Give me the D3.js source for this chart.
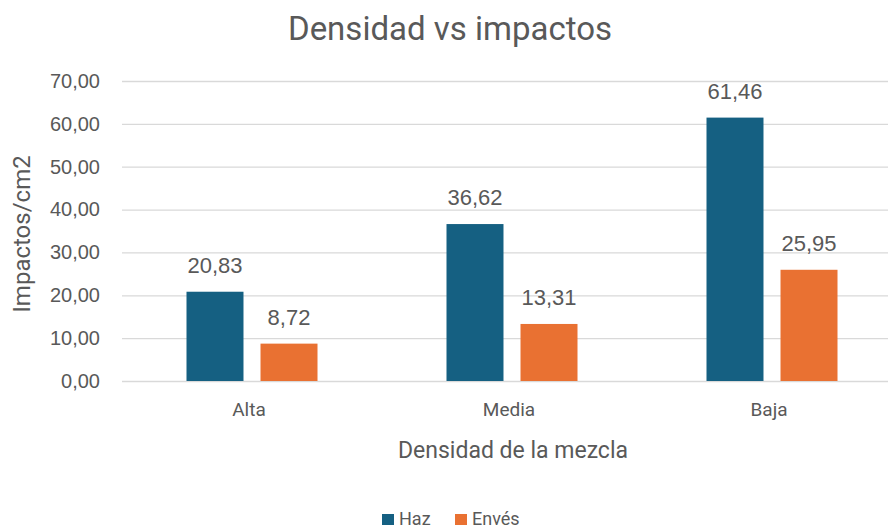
<!DOCTYPE html>
<html>
<head>
<meta charset="utf-8">
<script src="https://cdn.jsdelivr.net/npm/d3@7"></script>
<style>
  body { margin: 0; background: #fff; }
  text { font-family: Roboto, "Liberation Sans", sans-serif; fill: #595959; }
  .num { font-family: "Liberation Sans", Arial, sans-serif; }
</style>
</head>
<body>
<script>
// datos
const categorias = ["Alta", "Media", "Baja"];
const series = ["Haz", "Envés"];
const haz = [20.83, 36.62, 61.46];
const enves = [8.72, 13.31, 25.95];
const colores = ["#156082", "#E97132"];
const yTicks = [0, 10, 20, 30, 40, 50, 60, 70];

const width = 888, height = 529;
const fmt = v => d3.format(".2f")(v).replace(".", ",");

const svg = d3.select("body").append("svg")
    .attr("width", width)
    .attr("height", height);

const x = d3.scaleBand()
    .domain(categorias)
    .range([122, 902]);

const xs = d3.scaleBand()
    .domain(series)
    .range([0, 131])
    .paddingInner(0.23);

const y = d3.scaleLinear()
    .domain([0, 70])
    .range([381, 81]);

// lineas de cuadricula
svg.append("g")
    .selectAll("line")
    .data(yTicks)
    .join("line")
    .attr("x1", 122)
    .attr("x2", width)
    .attr("y1", d => y(d) + 0.5)
    .attr("y2", d => y(d) + 0.5)
    .attr("stroke", "#d9d9d9")
    .attr("stroke-width", 1.3);

// eje y
const yAxis = svg.append("g")
    .attr("transform", "translate(122,0)")
    .call(d3.axisLeft(y).tickValues(yTicks).tickFormat(fmt).tickSize(0).tickPadding(22));
yAxis.select(".domain").remove();
yAxis.selectAll("text")
    .attr("class", "num")
    .style("font-size", "20px")
    .attr("fill", "#595959");

// eje x
const xAxis = svg.append("g")
    .attr("transform", "translate(-3,381)")
    .call(d3.axisBottom(x).tickSize(0).tickPadding(22));
xAxis.select(".domain").remove();
xAxis.selectAll("text")
    .style("font-size", "19px")
    .attr("fill", "#595959");

// barras
const datos = categorias.map((c, i) => ({ cat: c, vals: [
    { s: series[0], v: haz[i] },
    { s: series[1], v: enves[i] }
] }));

const grupos = svg.append("g")
    .selectAll("g")
    .data(datos)
    .join("g")
    .attr("transform", d => `translate(${x(d.cat) + (x.bandwidth() - 131) / 2},0)`);

grupos.selectAll("rect")
    .data(d => d.vals)
    .join("rect")
    .attr("x", d => xs(d.s))
    .attr("width", xs.bandwidth())
    .attr("y", d => y(d.v))
    .attr("height", d => y(0) - y(d.v))
    .attr("fill", (d, i) => colores[i]);

grupos.selectAll("text")
    .data(d => d.vals)
    .join("text")
    .attr("class", "num")
    .attr("x", d => xs(d.s) + xs.bandwidth() / 2)
    .attr("y", d => y(d.v) - 19)
    .attr("text-anchor", "middle")
    .style("font-size", "22px")
    .attr("fill", "#404040")
    .text(d => fmt(d.v));

// titulo
svg.append("text")
    .attr("x", 450)
    .attr("y", 40)
    .attr("text-anchor", "middle")
    .style("font-size", "33px")
    .text("Densidad vs impactos");

// titulos de ejes
svg.append("text")
    .attr("x", 513)
    .attr("y", 458)
    .attr("text-anchor", "middle")
    .style("font-size", "23px")
    .text("Densidad de la mezcla");

svg.append("text")
    .attr("transform", "translate(30,234) rotate(-90)")
    .attr("text-anchor", "middle")
    .style("font-size", "24px")
    .text("Impactos/cm2");

// leyenda
const leyenda = svg.append("g")
    .selectAll("g")
    .data(series)
    .join("g")
    .attr("transform", (d, i) => `translate(${382 + i * 73},514)`);

leyenda.append("rect")
    .attr("width", 12)
    .attr("height", 11)
    .attr("fill", (d, i) => colores[i]);

leyenda.append("text")
    .attr("x", 17)
    .attr("y", 11)
    .style("font-size", "18px")
    .text(d => d);
</script>
</body>
</html>
